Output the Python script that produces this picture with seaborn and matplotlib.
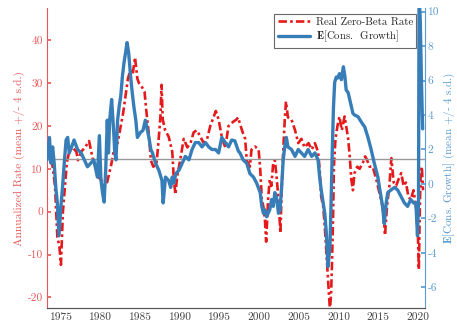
import numpy as np
import pandas as pd
import matplotlib
matplotlib.use("Agg")
import matplotlib.pyplot as plt
import seaborn as sns
from matplotlib.ticker import FuncFormatter, FixedLocator

# ---------------- data ----------------
red_years = [1973.2, 1973.5, 1973.8, 1974.2, 1974.5, 1974.75, 1974.95, 1975.2, 1975.4, 1975.7,
             1976.0, 1976.4, 1976.9, 1977.1, 1977.5, 1978.0, 1978.5, 1979.0, 1979.4, 1979.7,
             1980.0, 1980.5, 1980.8, 1981.3, 1981.7, 1982.1, 1982.4, 1982.8, 1983.1, 1983.4,
             1983.7, 1984.0, 1984.3, 1984.6, 1984.8, 1985.2, 1985.5, 1985.7, 1986.05, 1986.3,
             1986.6, 1987.0, 1987.2, 1987.5, 1987.65, 1987.8, 1988.1, 1988.55, 1989.0, 1989.2,
             1989.4, 1989.6, 1990.0, 1990.45, 1990.9, 1991.3, 1991.7, 1992.1, 1992.55, 1992.96,
             1993.4, 1993.8, 1994.2, 1994.5, 1994.85, 1995.3, 1995.7, 1996.1, 1996.7, 1997.1,
             1997.3, 1997.8, 1998.2, 1998.4, 1998.8, 1999.0, 1999.45, 1999.9, 2000.1, 2000.3,
             2000.5, 2000.7, 2000.85, 2001.1, 2001.3, 2001.5, 2001.75, 2001.95, 2002.2, 2002.4,
             2002.65, 2002.8, 2003.0, 2003.2, 2003.35, 2003.6, 2004.05, 2004.5, 2004.9, 2005.3,
             2005.7, 2006.2, 2006.6, 2007.0, 2007.4, 2007.6, 2007.8, 2008.05, 2008.25, 2008.45,
             2008.7, 2008.9, 2009.05, 2009.15, 2009.3, 2009.4, 2009.6, 2009.85, 2010.1, 2010.4,
             2010.75, 2010.95, 2011.2, 2011.4, 2011.6, 2011.8, 2012.0, 2012.35, 2012.65, 2013.05,
             2013.35, 2013.6, 2013.9, 2014.3, 2014.75, 2015.15, 2015.45, 2015.7, 2015.85, 2016.1,
             2016.4, 2016.65, 2016.95, 2017.25, 2017.55, 2017.9, 2018.2, 2018.5, 2018.8, 2019.1,
             2019.45, 2019.75, 2020.0, 2020.12, 2020.25, 2020.35, 2020.5, 2020.65]
red_rate = [16, 15, 12, 6, -6, -8, -12.4, 0, 4.5, 11.5,
            14, 15, 14, 12, 14, 15, 16.5, 12, 10, 8,
            7.5, 6, 7, 11, 15, 16, 19, 23, 27, 31,
            33, 32, 36, 31, 30, 29, 28, 24, 18, 12,
            10.5, 11, 15, 22, 29.6, 21.5, 19, 17.5, 14, 7.5,
            4, 8, 12, 17, 15, 16, 18.5, 19, 17.5, 16,
            17, 20, 22, 23.5, 21.5, 17, 15, 20, 21, 21.5,
            22, 19, 17, 12, 10.5, 14.5, 15.2, 14.5, 10, 3,
            1.2, -2, -7, 3, 7.5, 6, 11.5, 12, 7.5, 3,
            -5, 4.5, 14, 21.5, 25.7, 22, 21.5, 19, 16, 17,
            15, 16, 14.5, 16, 14, 10, 3.5, 1.2, -3.5, -9.6,
            -17.5, -23, -19, -12.8, -1, 10.5, 17, 20, 22.2, 19,
            22.2, 20, 17, 12.9, 7.5, 5, 9, 10.5, 10, 11.4,
            12.9, 12, 10.5, 10.5, 7.5, 4.4, 2, -1, -5.5, 1.2,
            6, 12.5, 6.8, 6, 7.5, 9, 6, 6.8, 3.5, 2.8,
            5, 1.2, -5, -13.5, 1.2, 9, 10.5, 5]

blue_years = [1973.2, 1973.5, 1973.7, 1973.9, 1974.1, 1974.3, 1974.5, 1974.7, 1974.95, 1975.15,
              1975.4, 1975.6, 1975.8, 1976.0, 1976.3, 1976.6, 1977.05, 1977.5, 1977.9, 1978.3,
              1978.7, 1979.1, 1979.55, 1979.8, 1980.0, 1980.2, 1980.4, 1980.6, 1980.8, 1980.95,
              1981.1, 1981.35, 1981.6, 1981.75, 1981.9, 1982.1, 1982.3, 1982.5, 1982.7, 1982.9,
              1983.1, 1983.3, 1983.5, 1983.75, 1983.95, 1984.15, 1984.4, 1984.6, 1985.0, 1985.3,
              1985.6, 1986.05, 1986.3, 1986.5, 1986.9, 1987.3, 1987.7, 1987.85, 1988.15, 1988.55,
              1988.8, 1989.0, 1989.2, 1989.45, 1989.85, 1990.25, 1990.65, 1991.1, 1991.5, 1991.9,
              1992.35, 1992.75, 1993.2, 1993.6, 1994.0, 1994.45, 1994.85, 1995.25, 1995.7, 1996.1,
              1996.5, 1996.9, 1997.35, 1997.55, 1997.95, 1998.4, 1998.8, 1999.25, 1999.65, 2000.1,
              2000.3, 2000.5, 2000.7, 2000.9, 2001.3, 2001.55, 2001.75, 2001.95, 2002.2, 2002.4,
              2002.6, 2002.8, 2003.0, 2003.2, 2003.4, 2003.6, 2004.05, 2004.5, 2004.9, 2005.3,
              2005.7, 2006.15, 2006.6, 2007.0, 2007.4, 2007.6, 2007.8, 2008.05, 2008.25, 2008.45,
              2008.65, 2008.9, 2009.05, 2009.2, 2009.35, 2009.5, 2009.7, 2009.9, 2010.1, 2010.35,
              2010.6, 2010.8, 2010.95, 2011.2, 2011.4, 2011.6, 2011.8, 2012.0, 2012.45, 2012.85,
              2013.3, 2013.7, 2014.1, 2014.5, 2014.95, 2015.15, 2015.35, 2015.55, 2015.75, 2016.0,
              2016.2, 2016.6, 2017.05, 2017.45, 2017.9, 2018.3, 2018.7, 2019.1, 2019.45, 2019.75,
              2019.95, 2020.08, 2020.15, 2020.3, 2020.45, 2020.6]
blue_growth = [1.4, 2.7, 1.2, 2.15, 1.2, -0.2, -1.1, -3.0, -1.3, -0.2,
               1.4, 2.55, 2.7, 1.8, 2.15, 2.55, 2.0, 1.8, 1.4, 1.0,
               1.2, 1.4, 0.4, 2.8, 0.23, -0.5, -1.05, 0.8, 3.7, 1.8,
               3.7, 4.9, 3.1, 1.8, 1.4, 3.7, 4.5, 5.1, 6.2, 7.0,
               7.6, 8.2, 7.6, 6.2, 5.3, 4.5, 3.7, 2.7, 3.0, 3.1,
               3.7, 2.7, 2.0, 1.8, 1.2, 0.8, 0.2, -1.1, 0.4, 0.2,
               -0.2, 0.4, 0.05, 0.6, 0.8, 1.2, 1.6, 1.4, 2.0, 2.4,
               2.4, 2.15, 2.4, 2.15, 2.0, 2.0, 1.8, 2.7, 2.4, 2.15,
               2.55, 2.5, 1.9, 1.8, 1.4, 1.2, 0.6, 0.4, 0.05, -0.5,
               -1.3, -1.7, -1.5, -1.9, -1.5, -0.9, -1.3, -0.5, -0.9, -1.7,
               -1.5, -0.2, 1.4, 2.15, 2.7, 2.15, 2.0, 1.6, 2.0, 1.8,
               1.6, 2.0, 1.6, 1.8, 1.4, 0.4, -0.35, -1.1, -1.7, -2.85,
               -4.8, -3.7, -1.0, 2.0, 4.5, 5.9, 6.2, 6.15, 6.4, 6.05,
               6.8, 6.2, 5.45, 5.3, 4.9, 4.5, 4.1, 4.0, 3.9, 3.6,
               3.3, 2.7, 2.0, 1.2, 0.4, -0.2, -0.75, -1.3, -2.3, -1.1,
               -0.5, -0.35, -0.2, -0.35, -0.75, -1.1, -1.3, -0.9, -1.1, -1.1,
               -3.0, -1.0, 11.0, 9.5, 6.0, 3.2]

mean_rate = 12.4
x_ticks = [1975, 1980, 1985, 1990, 1995, 2000, 2005, 2010, 2015, 2020]
left_ticks = [-20, -10, 0, 10, 20, 30, 40]
right_ticks = [-6, -4, -2, 0, 2, 4, 6, 8, 10]
label_red = "Real Zero-Beta Rate"
label_blue = r"$\mathbf{E}$[Cons.  Growth]"
ylabel_left = "Annualized Rate (mean +/- 4 s.d.)"
ylabel_right = r"$\mathbf{E}$[Cons. Growth] (mean +/- 4 s.d.)"

df_red = pd.DataFrame({"year": red_years, "rate": red_rate})
df_blue = pd.DataFrame({"year": blue_years, "growth": blue_growth})

# ---------------- style ----------------
sns.set_theme(style="white")
plt.rcParams["font.family"] = ["cmr10", "DejaVu Serif"]
plt.rcParams["mathtext.fontset"] = "cm"
plt.rcParams["axes.unicode_minus"] = False
plt.rcParams["axes.formatter.use_mathtext"] = True

RED = "#e41a1c"
BLUE = "#377eb8"
RED_TXT = "#e8585a"
BLUE_TXT = "#5b9bd0"

fig = plt.figure(figsize=(4.57, 3.25), dpi=100, facecolor="white")
ax = fig.add_axes([0.103, 0.052, 0.827, 0.923])
ax2 = ax.twinx()

sns.lineplot(data=df_red, x="year", y="rate", ax=ax, color=RED, lw=1.9,
             linestyle=(0, (3.2, 1.2, 1.0, 1.2)), estimator=None, sort=False)
ax.axhline(mean_rate, color="#9a9a9a", lw=1.0, zorder=5)
sns.lineplot(data=df_blue, x="year", y="growth", ax=ax2, color=BLUE, lw=2.4,
             estimator=None, sort=False)

ax.set_xlim(1973.2, 2020.9)
ax.set_ylim(-22.5, 47.5)
ax2.set_ylim(-7.2, 10.2)

fmt = FuncFormatter(lambda v, p: f"{v:g}")
ax.xaxis.set_major_locator(FixedLocator(x_ticks))
ax.yaxis.set_major_locator(FixedLocator(left_ticks))
ax2.yaxis.set_major_locator(FixedLocator(right_ticks))
for a in (ax, ax2):
    a.xaxis.set_major_formatter(fmt)
    a.yaxis.set_major_formatter(fmt)

ax.set_xlabel("")
ax.set_ylabel(ylabel_left, color=RED_TXT, fontsize=8.2, labelpad=2)
ax2.set_ylabel(ylabel_right, color=BLUE_TXT, fontsize=8.0)
ax2.yaxis.set_label_coords(1.043, 0.5)

ax.tick_params(axis="x", direction="in", length=3, colors="#444444", labelsize=8.2, pad=3)
ax.tick_params(axis="y", direction="in", length=3, colors=RED_TXT, labelsize=8.2, pad=3)
ax2.tick_params(axis="y", direction="in", length=3, colors=BLUE_TXT, labelsize=8.2, pad=2)

for a in (ax, ax2):
    a.spines["top"].set_visible(False)
    a.spines["bottom"].set_color("#555555")
    a.spines["left"].set_visible(False)
    a.spines["right"].set_visible(False)
ax.spines["left"].set_visible(True)
ax.spines["left"].set_color(RED_TXT)
ax2.spines["right"].set_visible(True)
ax2.spines["right"].set_color(BLUE_TXT)
for s in ("left", "bottom", "right"):
    ax.spines[s].set_linewidth(0.8)
    ax2.spines[s].set_linewidth(0.8)

h1 = ax.get_lines()[0]
h2 = ax2.get_lines()[0]
leg = ax2.legend([h1, h2], [label_red, label_blue], loc="upper right",
                 bbox_to_anchor=(0.985, 0.99), fontsize=7.8, frameon=True,
                 fancybox=False, handlelength=3.0, borderpad=0.3,
                 labelspacing=0.15, handletextpad=0.5, borderaxespad=0.3)
leg.get_frame().set_edgecolor("#444444")
leg.get_frame().set_linewidth(0.8)

fig.savefig("out.png", dpi=100, facecolor="white")
